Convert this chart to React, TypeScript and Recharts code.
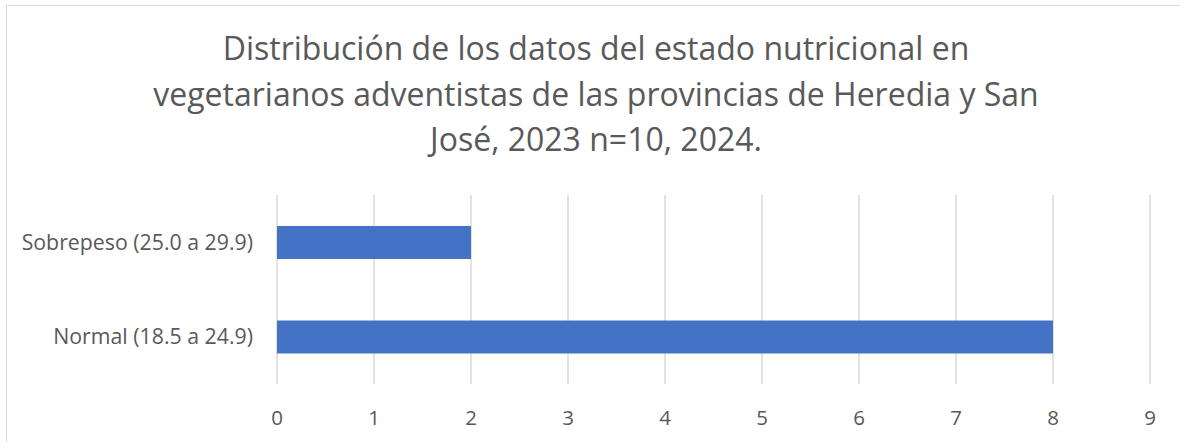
import { BarChart, Bar, XAxis, YAxis, CartesianGrid } from "recharts"

const categorias = ["Sobrepeso (25.0 a 29.9)", "Normal (18.5 a 24.9)"]
const valores = [2, 8]
const ticksX = [0, 1, 2, 3, 4, 5, 6, 7, 8, 9]
const tituloLineas = [
  "Distribución de los datos del estado nutricional en",
  "vegetarianos adventistas de las provincias de Heredia y San",
  "José, 2023 n=10, 2024.",
]

const FONT = "'Open Sans', sans-serif"
const TEXTO = "#595959"

export default function App() {
  const data = categorias.map((c, i) => ({ categoria: c, valor: valores[i] }))

  return (
    <div style={{ position: "fixed", left: 0, top: 0, width: 1180, height: 442, background: "#fff", overflow: "hidden", fontFamily: FONT }}>
      {/* marco del gráfico, se sale por la derecha y abajo */}
      <div style={{ position: "absolute", left: 6, top: 5, width: 1220, height: 480, border: "1.5px solid #d9d9d9" }} />

      <div style={{ position: "absolute", left: 0, top: 0, width: 1192, textAlign: "center", color: TEXTO, fontSize: 32, lineHeight: "45.7px", paddingTop: 25 }}>
        {tituloLineas.map((l) => <div key={l}>{l}</div>)}
      </div>

      <div style={{ position: "absolute", left: 0, top: 0 }}>
        <BarChart width={1180} height={442} data={data} layout="vertical"
          margin={{ top: 195, right: 30, bottom: 0, left: 0 }} barCategoryGap={0}>
          <CartesianGrid horizontal={false} stroke="#d9d9d9" strokeWidth={1.5} />
          <XAxis type="number" domain={[0, 9]} ticks={ticksX} interval={0} height={58}
            axisLine={false} tickLine={false} tickSize={0} tickMargin={26}
            tick={{ fill: TEXTO, fontSize: 20.5, fontFamily: FONT }} />
          <YAxis type="category" dataKey="categoria" width={277}
            axisLine={false} tickLine={false} tickSize={0} tickMargin={24}
            tick={{ fill: TEXTO, fontSize: 21.3, fontFamily: FONT }} />
          <Bar dataKey="valor" fill="#4472C4" barSize={33} isAnimationActive={false} />
        </BarChart>
      </div>
    </div>
  )
}
